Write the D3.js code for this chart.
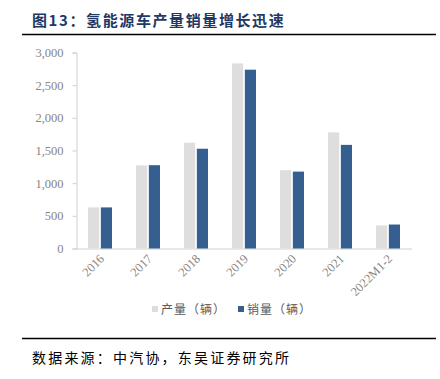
<!DOCTYPE html>
<html>
<head>
<meta charset="utf-8">
<script src="https://cdn.jsdelivr.net/npm/d3@7"></script>
<style>
  body { margin: 0; background: #fff; }
</style>
</head>
<body>
<div id="chart"></div>
<script>
// data
const categories = ["2016", "2017", "2018", "2019", "2020", "2021", "2022M1-2"];
const production = [629, 1272, 1619, 2833, 1199, 1777, 353];
const sales = [629, 1275, 1527, 2737, 1177, 1586, 367];
const seriesNames = ["产量（辆）", "销量（辆）"];
const yTicks = [0, 500, 1000, 1500, 2000, 2500, 3000];

const width = 440, height = 379;
const colors = ["#dedede", "#355f91"];
const cjk = "'Noto Sans CJK SC', sans-serif";
const serif = "'Liberation Serif', 'Times New Roman', serif";

const svg = d3.select("#chart").append("svg")
  .attr("width", width)
  .attr("height", height);

// title + rules
svg.append("text")
  .attr("x", 32).attr("y", 26)
  .style("font-family", cjk)
  .style("font-weight", "bold")
  .style("font-size", "15px")
  .style("letter-spacing", "1.6px")
  .style("fill", "#1f3864")
  .text("图13：氢能源车产量销量增长迅速");

svg.append("line")
  .attr("x1", 22).attr("x2", 436)
  .attr("y1", 34.5).attr("y2", 34.5)
  .style("stroke", "#000").style("stroke-width", 1.5);

svg.append("line")
  .attr("x1", 22).attr("x2", 436)
  .attr("y1", 338.5).attr("y2", 338.5)
  .style("stroke", "#000").style("stroke-width", 1.5);

svg.append("text")
  .attr("x", 32).attr("y", 363)
  .style("font-family", cjk)
  .style("font-size", "14px")
  .style("letter-spacing", "2.2px")
  .style("fill", "#000")
  .text("数据来源：中汽协，东吴证券研究所");

// scales
const x = d3.scaleBand()
  .domain(categories)
  .range([76, 412])
  .paddingInner(0.5)
  .paddingOuter(0.25);

const xs = d3.scaleBand()
  .domain([0, 1])
  .range([0, x.bandwidth()])
  .paddingInner(0.13);

const y = d3.scaleLinear()
  .domain([0, 3000])
  .range([248.5, 52.5]);

// y axis
const yAxis = svg.append("g")
  .attr("transform", "translate(76.5,0)")
  .call(d3.axisLeft(y).tickValues(yTicks).tickSize(4).tickPadding(9)
    .tickFormat(d3.format(",")));
yAxis.selectAll("path, line").style("stroke", "#d0d0d0");
yAxis.selectAll("text")
  .style("font-family", serif)
  .style("font-size", "12.5px")
  .style("fill", "#858585");

// x axis line
svg.append("line")
  .attr("x1", 76).attr("x2", 412)
  .attr("y1", y(0) + 0.5).attr("y2", y(0) + 0.5)
  .style("stroke", "#d0d0d0");

// bars
const groups = svg.selectAll("g.cat")
  .data(categories.map((c, i) => ({ cat: c, vals: [production[i], sales[i]] })))
  .enter().append("g")
  .attr("class", "cat")
  .attr("transform", d => `translate(${x(d.cat)},0)`);

groups.selectAll("rect")
  .data(d => d.vals.map((v, k) => ({ k, v })))
  .enter().append("rect")
  .attr("x", d => xs(d.k))
  .attr("width", xs.bandwidth())
  .attr("y", d => y(d.v))
  .attr("height", d => y(0) - y(d.v))
  .style("fill", d => colors[d.k]);

// x labels rotated
svg.selectAll("text.xlab")
  .data(categories)
  .enter().append("text")
  .attr("class", "xlab")
  .attr("text-anchor", "end")
  .attr("transform", d => `translate(${x(d) + x.bandwidth() / 2 + 5},${y(0) + 11}) rotate(-45)`)
  .style("font-family", serif)
  .style("font-size", "12.5px")
  .style("fill", "#858585")
  .text(d => d);

// legend
const legendX = [152, 238];
const legend = svg.selectAll("g.leg")
  .data(seriesNames)
  .enter().append("g")
  .attr("class", "leg")
  .attr("transform", (d, i) => `translate(${legendX[i]},312)`);

legend.append("rect")
  .attr("x", 0).attr("y", -6)
  .attr("width", 6).attr("height", 6)
  .style("fill", (d, i) => colors[i]);

legend.append("text")
  .attr("x", 9).attr("y", 0)
  .attr("dy", "0.2em")
  .style("font-family", cjk)
  .style("font-size", "12px")
  .style("letter-spacing", "1px")
  .style("fill", "#595959")
  .text(d => d);
</script>
</body>
</html>
